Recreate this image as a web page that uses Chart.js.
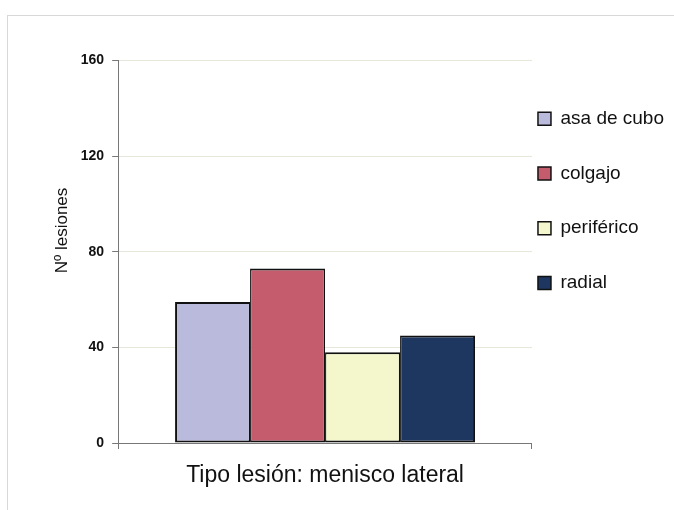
<!DOCTYPE html>
<html>
<head>
<meta charset="utf-8">
<script src="https://cdn.jsdelivr.net/npm/chart.js@4/dist/chart.umd.min.js"></script>
<style>
  html, body { margin: 0; padding: 0; background: #ffffff; }
  #wrap { position: relative; width: 674px; height: 510px; overflow: hidden; }
  #frame { position: absolute; left: 7px; top: 15px; right: -2px; bottom: -2px;
           border-top: 1px solid #d8d8d8; border-left: 1px solid #d8d8d8; }
  #c { position: absolute; left: 0; top: 0; }
</style>
</head>
<body>
<div id="wrap">
  <div id="frame"></div>
  <canvas id="c" width="674" height="510"></canvas>
</div>
<script>
// Lesion types of the lateral meniscus and their counts
const categories = ['asa de cubo', 'colgajo', 'periférico', 'radial'];
const lesionCounts = [59, 73, 38, 45];
const barColors = ['#B9BADC', '#C45C6E', '#F4F6CB', '#1D3761'];
const yTicks = [0, 40, 80, 120, 160];
const groupLabel = 'Tipo lesión: menisco lateral';
const yTitle = 'Nº lesiones';

const fontFamily = "'Liberation Sans', Arial, Helvetica, sans-serif";
const last = categories.length - 1;

// Adjacent bars share a single outline between them
const datasets = categories.map((name, i) => ({
  label: name,
  data: [lesionCounts[i]],
  backgroundColor: barColors[i],
  borderColor: '#111111',
  borderWidth: { top: 2, bottom: 2, left: i === 0 ? 2 : 1.25, right: i === last ? 2 : 1.25 },
  borderSkipped: false,
  inflateAmount: 0,
  categoryPercentage: 0.725,
  barPercentage: 1.0
}));

new Chart(document.getElementById('c'), {
  type: 'bar',
  data: { labels: [''], datasets },
  options: {
    responsive: false,
    animation: false,
    devicePixelRatio: 1,
    layout: { padding: { left: 52.4, right: 0, top: 60.5, bottom: 20.2 } },
    plugins: {
      tooltip: { enabled: false },
      legend: {
        position: 'right',
        align: 'start',
        title: { display: true, text: '', font: { size: 12 }, padding: { top: 28.4, bottom: 0 } },
        labels: {
          boxWidth: 13,
          boxHeight: 13,
          padding: 6,
          color: '#111111',
          font: { family: fontFamily, size: 19, lineHeight: 2.563 },
          generateLabels(chart) {
            const items = Chart.defaults.plugins.legend.labels.generateLabels(chart);
            return items.map(it => Object.assign(it, { text: [it.text], lineWidth: 1.5 }));
          }
        }
      }
    },
    scales: {
      x: {
        ticks: { display: false },
        grid: {
          display: true,
          drawOnChartArea: false,
          drawTicks: true,
          tickLength: 6,
          tickColor: '#777777',
          offset: true
        },
        border: { display: true, color: '#777777', width: 1 },
        title: {
          display: true,
          text: groupLabel,
          color: '#111111',
          font: { family: fontFamily, size: 23 },
          padding: { top: 13.2, bottom: 0 }
        }
      },
      y: {
        min: 0,
        max: 160,
        afterBuildTicks(scale) { scale.ticks = yTicks.map(v => ({ value: v })); },
        ticks: {
          padding: 8,
          color: '#111111',
          font: { family: fontFamily, size: 14, weight: 'bold' }
        },
        grid: {
          color: '#e6e6da',
          lineWidth: 1,
          drawTicks: true,
          tickLength: 6,
          tickColor: '#777777'
        },
        border: { display: true, color: '#777777', width: 1 },
        title: {
          display: true,
          // leading spaces lift the rotated title above the axis midpoint
          text: ' '.repeat(9) + yTitle,
          color: '#111111',
          font: { family: fontFamily, size: 17 },
          padding: { top: 0, bottom: 0 }
        }
      }
    }
  }
});
</script>
</body>
</html>
